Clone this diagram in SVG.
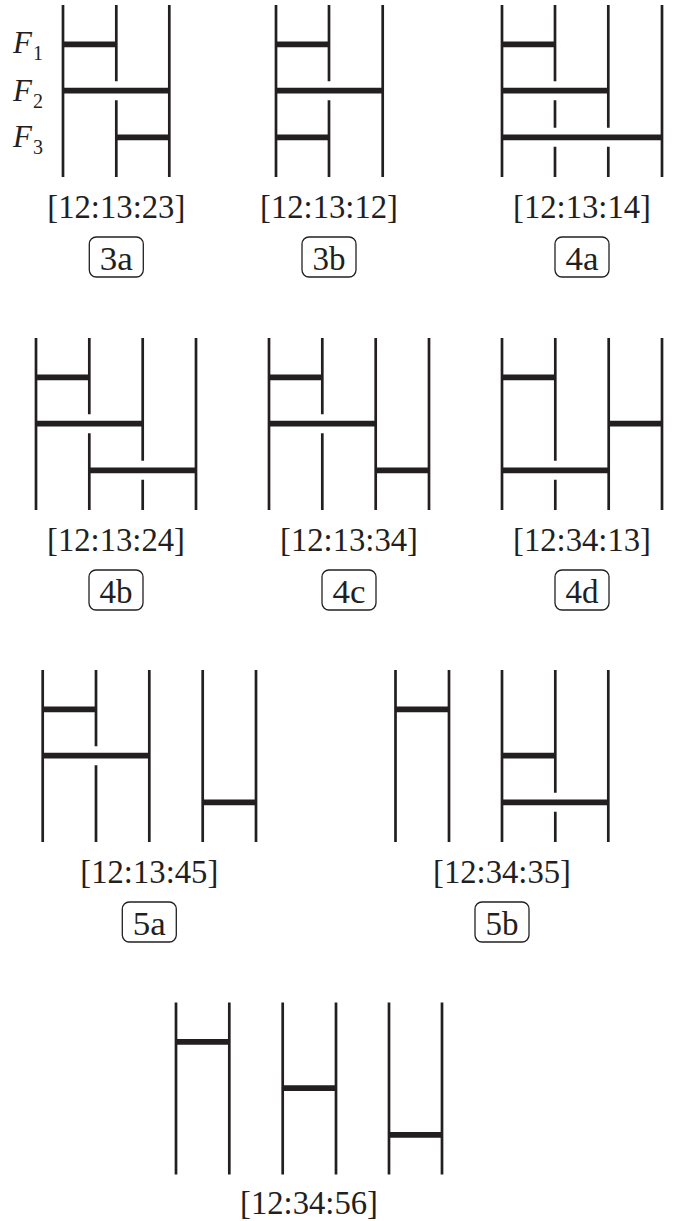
<svg xmlns="http://www.w3.org/2000/svg" width="683" height="1221" viewBox="0 0 683 1221">
<style>
.v{stroke:#231f20;stroke-width:2.7;fill:none}
.r{stroke:#231f20;stroke-width:5.8;fill:none}
.lbl{font-size:33px;fill:#231f20;text-anchor:middle}
.box{fill:none;stroke:#231f20;stroke-width:1.3}
.f{font-style:italic;font-size:31px;fill:#231f20}
.sub{font-style:normal;font-size:20px;fill:#231f20}
</style>
<rect width="683" height="1221" fill="#ffffff"/>

<g id="legend" font-family="Liberation Serif, Times New Roman, Noto Serif, DejaVu Serif, serif">
<text class="f" x="13" y="53.3">F<tspan class="sub" dx="1" dy="7">1</tspan></text>
<text class="f" x="13" y="100.7">F<tspan class="sub" dx="1" dy="7">2</tspan></text>
<text class="f" x="13" y="147">F<tspan class="sub" dx="1" dy="7">3</tspan></text>
</g>

<g id="panels" font-family="Liberation Serif, Times New Roman, Noto Serif, DejaVu Serif, serif">
<g id="p3a">
<path class="v" d="M63 5V177M116.3 5V81.2M116.3 100.2V177M169.3 5V177"/>
<path class="r" d="M63 44.3H116.3M63 90.7H169.3M116.3 137.3H169.3"/>
<text class="lbl" x="116.3" y="218" textLength="138" lengthAdjust="spacingAndGlyphs">[12:13:23]</text>
<rect class="box" x="89.3" y="237" width="54" height="40" rx="7"/>
<text class="lbl" x="116.3" y="270" textLength="33" lengthAdjust="spacingAndGlyphs">3a</text>
</g>

<g id="p3b">
<path class="v" d="M276 5V177M329 5V81.2M329 100.2V177M382.7 5V177"/>
<path class="r" d="M276 44.3H329M276 90.7H382.7M276 137.3H329"/>
<text class="lbl" x="329" y="218" textLength="138" lengthAdjust="spacingAndGlyphs">[12:13:12]</text>
<rect class="box" x="302" y="237" width="54" height="40" rx="7"/>
<text class="lbl" x="329" y="270" textLength="33" lengthAdjust="spacingAndGlyphs">3b</text>
</g>

<g id="p4a">
<path class="v" d="M502 5V177M555 5V81.2M555 100.2V127.8M555 146.8V177M608.3 5V127.8M608.3 146.8V177M662 5V177"/>
<path class="r" d="M502 44.3H555M502 90.7H608.3M502 137.3H662"/>
<text class="lbl" x="582" y="218" textLength="138" lengthAdjust="spacingAndGlyphs">[12:13:14]</text>
<rect class="box" x="555" y="237" width="54" height="40" rx="7"/>
<text class="lbl" x="582" y="270" textLength="33" lengthAdjust="spacingAndGlyphs">4a</text>
</g>

<g id="p4b">
<path class="v" d="M36 338V510M89.3 338V414.2M89.3 433.2V510M142.7 338V460.8M142.7 479.8V510M196 338V510"/>
<path class="r" d="M36 377.3H89.3M36 423.7H142.7M89.3 470.3H196"/>
<text class="lbl" x="116" y="551" textLength="138" lengthAdjust="spacingAndGlyphs">[12:13:24]</text>
<rect class="box" x="89" y="570" width="54" height="40" rx="7"/>
<text class="lbl" x="116" y="603" textLength="33" lengthAdjust="spacingAndGlyphs">4b</text>
</g>

<g id="p4c">
<path class="v" d="M269 338V510M322.3 338V414.2M322.3 433.2V510M375.7 338V510M429 338V510"/>
<path class="r" d="M269 377.3H322.3M269 423.7H375.7M375.7 470.3H429"/>
<text class="lbl" x="349" y="551" textLength="138" lengthAdjust="spacingAndGlyphs">[12:13:34]</text>
<rect class="box" x="322" y="570" width="54" height="40" rx="7"/>
<text class="lbl" x="349" y="603" textLength="33" lengthAdjust="spacingAndGlyphs">4c</text>
</g>

<g id="p4d">
<path class="v" d="M502 338V510M555.3 338V460.8M555.3 479.8V510M608.7 338V510M662 338V510"/>
<path class="r" d="M502 377.3H555.3M608.7 423.7H662M502 470.3H608.7"/>
<text class="lbl" x="582" y="551" textLength="138" lengthAdjust="spacingAndGlyphs">[12:34:13]</text>
<rect class="box" x="555" y="570" width="54" height="40" rx="7"/>
<text class="lbl" x="582" y="603" textLength="33" lengthAdjust="spacingAndGlyphs">4d</text>
</g>

<g id="p5a">
<path class="v" d="M42.7 670V842M96 670V746.2M96 765.2V842M149.3 670V842M202.7 670V842M256 670V842"/>
<path class="r" d="M42.7 709.3H96M42.7 755.7H149.3M202.7 802.3H256"/>
<text class="lbl" x="149.3" y="883" textLength="138" lengthAdjust="spacingAndGlyphs">[12:13:45]</text>
<rect class="box" x="122.3" y="902" width="54" height="40" rx="7"/>
<text class="lbl" x="149.3" y="935" textLength="33" lengthAdjust="spacingAndGlyphs">5a</text>
</g>

<g id="p5b">
<path class="v" d="M395.5 670V842M449 670V842M502 670V842M555.3 670V792.8M555.3 811.8V842M608.3 670V842"/>
<path class="r" d="M395.5 709.3H449M502 755.7H555.3M502 802.3H608.3"/>
<text class="lbl" x="502" y="883" textLength="138" lengthAdjust="spacingAndGlyphs">[12:34:35]</text>
<rect class="box" x="475" y="902" width="54" height="40" rx="7"/>
<text class="lbl" x="502" y="935" textLength="33" lengthAdjust="spacingAndGlyphs">5b</text>
</g>

<g id="p6">
<path class="v" d="M176 1002.5V1174.5M229.3 1002.5V1174.5M282.7 1002.5V1174.5M336 1002.5V1174.5M389 1002.5V1174.5M442 1002.5V1174.5"/>
<path class="r" d="M176 1041.8H229.3M282.7 1088.2H336M389 1134.8H442"/>
<text class="lbl" x="309" y="1214" textLength="138" lengthAdjust="spacingAndGlyphs">[12:34:56]</text>
</g>
</g>
</svg>
